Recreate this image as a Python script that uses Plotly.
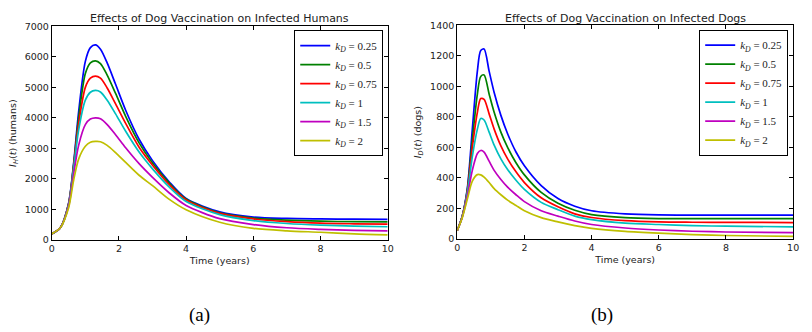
import plotly.graph_objects as go

# ---------------- data ----------------
labels = ["<i>k</i><sub><i>D</i></sub> = 0.25", "<i>k</i><sub><i>D</i></sub> = 0.5",
          "<i>k</i><sub><i>D</i></sub> = 0.75", "<i>k</i><sub><i>D</i></sub> = 1",
          "<i>k</i><sub><i>D</i></sub> = 1.5", "<i>k</i><sub><i>D</i></sub> = 2"]
colors = ["#0000ff", "#008000", "#ff0000", "#00bfbf", "#bf00bf", "#bfbf00"]

# Infected humans
t_h = [0, 0.25, 0.5, 0.65, 0.8, 1.0, 1.15, 1.3, 1.45, 1.65, 1.9, 2.2, 2.6, 3.0, 3.5, 4, 5, 6, 7, 8, 9, 10]
h_025 = [200, 390, 1200, 2500, 4200, 5850, 6300, 6390, 6250, 5800, 5100, 4250, 3300, 2600, 1900, 1360, 920, 750, 705, 690, 680, 676]
h_05 = [200, 390, 1180, 2450, 4000, 5450, 5800, 5870, 5780, 5400, 4800, 4050, 3180, 2520, 1860, 1340, 890, 720, 650, 615, 600, 592]
h_075 = [200, 390, 1160, 2400, 3800, 5000, 5300, 5370, 5300, 4980, 4460, 3820, 3040, 2450, 1810, 1310, 870, 690, 600, 550, 530, 518]
h_1 = [200, 390, 1140, 2330, 3600, 4580, 4840, 4900, 4850, 4580, 4130, 3560, 2880, 2330, 1730, 1260, 830, 637, 540, 486, 455, 433]
h_15 = [200, 390, 1100, 2150, 3100, 3780, 3960, 4000, 3970, 3780, 3450, 3020, 2500, 2050, 1540, 1130, 700, 506, 400, 348, 315, 296]
h_2 = [200, 390, 1050, 1950, 2650, 3070, 3200, 3230, 3220, 3100, 2860, 2540, 2120, 1780, 1330, 990, 580, 380, 300, 253, 200, 169]

# Infected dogs
t_d = [0, 0.15, 0.3, 0.45, 0.6, 0.7, 0.8, 0.95, 1.1, 1.3, 1.5, 1.75, 2.0, 2.5, 3.0, 3.5, 4, 5, 6, 7, 8, 10]
d_025 = [55, 150, 330, 720, 1100, 1235, 1245, 1100, 960, 810, 690, 570, 480, 350, 265, 215, 185, 165, 158, 157, 157, 157]
d_05 = [55, 150, 320, 650, 950, 1065, 1075, 950, 830, 700, 600, 500, 420, 305, 234, 188, 160, 140, 134, 133, 133, 133]
d_075 = [55, 148, 310, 600, 830, 920, 915, 820, 720, 610, 525, 440, 370, 270, 211, 165, 141, 120, 112, 110, 109, 108]
d_1 = [55, 146, 300, 540, 720, 790, 780, 700, 615, 525, 455, 385, 325, 240, 192, 150, 127, 104, 95, 88, 84, 80]
d_15 = [55, 143, 280, 450, 560, 580, 570, 510, 450, 390, 340, 290, 245, 185, 150, 118, 95, 72, 59, 51, 46, 42]
d_2 = [55, 140, 260, 380, 422, 420, 405, 370, 330, 290, 255, 220, 185, 140, 112, 88, 70, 50, 38, 29, 23, 17]

humans = [h_025, h_05, h_075, h_1, h_15, h_2]
dogs = [d_025, d_05, d_075, d_1, d_15, d_2]

x_ticks = [0, 2, 4, 6, 8, 10]
yh_ticks = [0, 1000, 2000, 3000, 4000, 5000, 6000, 7000]
yd_ticks = [0, 200, 400, 600, 800, 1000, 1200, 1400]

titles = ["Effects of Dog Vaccination on Infected Humans", "Effects of Dog Vaccination on Infected Dogs"]
panel_labels = ["(a)", "(b)"]

# ---------------- figure ----------------
fig = go.Figure()
for lab, col, ys in zip(labels, colors, humans):
    fig.add_trace(go.Scatter(x=t_h, y=ys, mode="lines", name=lab,
                             line=dict(color=col, width=1.7, shape="spline", smoothing=0.8),
                             xaxis="x", yaxis="y", legend="legend"))
for lab, col, ys in zip(labels, colors, dogs):
    fig.add_trace(go.Scatter(x=t_d, y=ys, mode="lines", name=lab,
                             line=dict(color=col, width=1.7, shape="spline", smoothing=0.8),
                             xaxis="x2", yaxis="y2", legend="legend2"))

W, H = 812, 332
tick_font = dict(family="DejaVu Sans", size=9.5, color="#222")
title_font = dict(family="DejaVu Sans", size=9.5, color="#222")

def xax(domain, anchor):
    return dict(domain=domain, anchor=anchor, range=[0, 10], tickvals=x_ticks,
                ticks="inside", ticklen=4, tickcolor="black", showline=True, linecolor="black",
                linewidth=1, mirror="ticks", showgrid=False, zeroline=False, tickfont=tick_font,
                title=dict(text="Time (years)", font=title_font, standoff=3))

def yax(domain, anchor, rng, tv, title):
    return dict(domain=domain, anchor=anchor, range=rng, tickvals=tv,
                ticks="inside", ticklen=4, tickcolor="black", showline=True, linecolor="black",
                linewidth=1, mirror="ticks", showgrid=False, zeroline=False, tickfont=tick_font,
                title=dict(text=title, font=title_font, standoff=6))

xd1 = [49.3 / W, 389 / W]
xd2 = [459.3 / W, 799 / W]
yd1 = [(H - 242) / H, (H - 21) / H]
yd2 = [(H - 241) / H, (H - 20) / H]

legend_common = dict(bgcolor="white", bordercolor="black", borderwidth=1,
                     font=dict(family="Liberation Serif", size=11, color="#222"),
                     xanchor="right", yanchor="top", tracegroupgap=0)

fig.update_layout(
    width=W, height=H, margin=dict(l=0, r=0, t=0, b=0),
    paper_bgcolor="white", plot_bgcolor="white",
    xaxis=xax(xd1, "y"), yaxis=yax(yd1, "x", [0, 7000], yh_ticks,
                                   "<i>I</i><sub><i>H</i></sub>(<i>t</i>) (humans)"),
    xaxis2=xax(xd2, "y2"), yaxis2=yax(yd2, "x2", [0, 1400], yd_ticks,
                                      "<i>I</i><sub><i>D</i></sub>(<i>t</i>) (dogs)"),
    legend=dict(x=384.5 / W, y=(H - 25) / H, **legend_common),
    legend2=dict(x=794 / W, y=(H - 24.5) / H, **legend_common),
    showlegend=True,
)

for i, (ttl, xd, yd) in enumerate(zip(titles, [xd1, xd2], [yd1, yd2])):
    fig.add_annotation(text=ttl, xref="paper", yref="paper", x=(xd[0] + xd[1]) / 2,
                       y=(H - 13) / H, xanchor="center", yanchor="middle", showarrow=False,
                       font=dict(family="DejaVu Sans", size=11, color="#222"))

for lab, xc in zip(panel_labels, [199, 606]):
    fig.add_annotation(text=lab, xref="paper", yref="paper", x=xc / W, y=(H - 320) / H,
                       xanchor="center", yanchor="middle", showarrow=False,
                       font=dict(family="Liberation Serif", size=19, color="black"))

fig.write_html("out.html", config={"displayModeBar": False},
               post_script="document.documentElement.style.overflow='hidden';document.body.style.margin='0';document.body.style.overflow='hidden';")
